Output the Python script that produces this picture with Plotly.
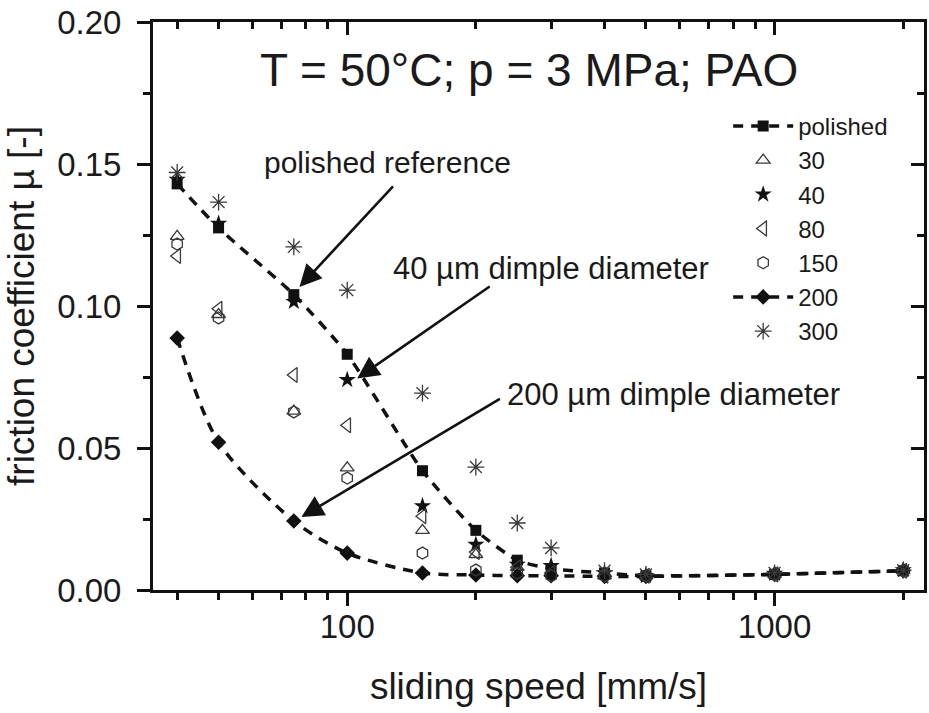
import math
import plotly.graph_objects as go

# ---------------- data ----------------
speeds = [40, 50, 75, 100, 150, 200, 250, 300, 400, 500, 1000, 2000]

polished = [0.143, 0.1275, 0.104, 0.083, 0.042, 0.021, 0.0105, 0.0075, 0.006, 0.005, 0.0055, 0.0068]
d30 = [0.1245, 0.097, 0.063, 0.043, 0.021, 0.0125, 0.008, 0.006, 0.005, 0.005, 0.0055, 0.0068]
d40 = [0.1445, 0.129, 0.1015, 0.074, 0.0296, 0.016, 0.009, 0.0085, 0.006, 0.005, 0.0058, 0.007]
d80 = [0.1176, 0.099, 0.0757, 0.058, 0.026, 0.0134, 0.008, 0.006, 0.005, 0.005, 0.0055, 0.0068]
d150 = [0.1218, 0.0958, 0.0627, 0.0394, 0.013, 0.007, 0.006, 0.005, 0.005, 0.005, 0.0055, 0.0068]
d200 = [0.0887, 0.052, 0.0243, 0.013, 0.006, 0.0053, 0.005, 0.005, 0.0048, 0.0048, 0.0055, 0.0068]
d300 = [0.147, 0.1366, 0.1208, 0.1056, 0.0693, 0.0433, 0.0236, 0.0148, 0.0068, 0.0055, 0.006, 0.007]

series_names = ["polished", "30", "40", "80", "150", "200", "300"]

x_major = [100, 1000]
x_major_text = ["100", "1000"]
x_minor = [40, 50, 60, 70, 80, 90, 200, 300, 400, 500, 600, 700, 800, 900, 2000]
y_ticks = [0.00, 0.05, 0.10, 0.15, 0.20]
y_ticktext = ["0.00", "0.05", "0.10", "0.15", "0.20"]

# ---------------- style ----------------
FONT = "Liberation Sans, Arial, sans-serif"
TXT = "#1a1a1a"
DARK = "#111111"
GREY = "#3a3a3a"
DASH = "10px,8px"

fig = go.Figure()

fig.add_trace(go.Scatter(
    x=speeds, y=polished, name=series_names[0], mode="lines+markers",
    line=dict(color=DARK, width=3.5, dash=DASH, shape="spline", smoothing=0.6),
    marker=dict(symbol="square", size=11, color=DARK)))
fig.add_trace(go.Scatter(
    x=speeds, y=d30, name=series_names[1], mode="markers",
    marker=dict(symbol="triangle-up-open", size=12, color=GREY, line=dict(width=1.3))))
fig.add_trace(go.Scatter(
    x=speeds, y=d40, name=series_names[2], mode="markers",
    marker=dict(symbol="star", size=13, color=DARK, line=dict(width=0))))
fig.add_trace(go.Scatter(
    x=speeds, y=d80, name=series_names[3], mode="markers",
    marker=dict(symbol="triangle-left-open", size=13, color=GREY, line=dict(width=1.3))))
fig.add_trace(go.Scatter(
    x=speeds, y=d150, name=series_names[4], mode="markers", yaxis="y2",
    marker=dict(symbol="hexagon-open", size=12, color=GREY, line=dict(width=1.3))))
fig.add_trace(go.Scatter(
    x=speeds, y=d200, name=series_names[5], mode="lines+markers",
    line=dict(color=DARK, width=3.5, dash=DASH, shape="spline", smoothing=0.8),
    marker=dict(symbol="diamond", size=12, color=DARK)))
fig.add_trace(go.Scatter(
    x=speeds, y=d300, name=series_names[6], mode="markers", xaxis="x2",
    marker=dict(symbol="asterisk-open", size=14, color=GREY, line=dict(width=1.3))))

xr = [1.5455, 3.3497]
yr = [0, 0.2]

axis_common = dict(linecolor=DARK, linewidth=3, tickcolor=DARK, tickwidth=2.5,
                   showgrid=False, zeroline=False)

fig.update_layout(
    width=929, height=713,
    margin=dict(l=153, r=2, t=22, b=123),
    paper_bgcolor="white", plot_bgcolor="white",
    font=dict(family=FONT, color=TXT),
    showlegend=True,
    legend=dict(x=0.746, y=0.856, xanchor="left", yanchor="top",
                font=dict(size=24, family=FONT, color=TXT),
                itemwidth=60, bgcolor="rgba(0,0,0,0)", borderwidth=0,
                tracegroupgap=0),
    xaxis=dict(type="log", range=xr, showline=True, mirror=True,
               ticks="outside", ticklen=13, tickvals=x_major, ticktext=x_major_text,
               minor=dict(tickvals=x_minor, ticks="outside", ticklen=7,
                          tickcolor=DARK, tickwidth=2.5),
               tickfont=dict(size=33, family=FONT, color=TXT),
               ticklabelstandoff=-8,
               title=dict(text="sliding speed [mm/s]", font=dict(size=37, family=FONT, color=TXT),
                          standoff=30),
               **axis_common),
    xaxis2=dict(type="log", range=xr, overlaying="x", side="top", anchor="y",
                showline=False, ticks="inside", ticklen=13, tickvals=x_major,
                showticklabels=False,
                minor=dict(tickvals=x_minor, ticks="inside", ticklen=7,
                           tickcolor=DARK, tickwidth=2.5),
                **axis_common),
    yaxis=dict(range=yr, showline=True, mirror=True,
               ticks="outside", ticklen=13, tickvals=y_ticks, ticktext=y_ticktext,
               minor=dict(dtick=0.025, tick0=0, ticks="outside", ticklen=7,
                          tickcolor=DARK, tickwidth=2.5),
               tickfont=dict(size=33, family=FONT, color=TXT),
               ticklabelstandoff=9,
               title=dict(text="friction coefficient µ [-]", font=dict(size=37, family=FONT, color=TXT),
                          standoff=12),
               **axis_common),
    yaxis2=dict(range=yr, overlaying="y", side="right", anchor="x",
                showline=False, ticks="inside", ticklen=13, tickvals=y_ticks,
                showticklabels=False,
                minor=dict(dtick=0.025, tick0=0, ticks="inside", ticklen=7,
                           tickcolor=DARK, tickwidth=2.5),
                **axis_common),
)


def px_to_paper_x(px):
    return (px - 153) / 774.0


def px_to_paper_y(py):
    return (590 - py) / 568.0


# title text inside plot
fig.add_annotation(text="T = 50°C; p = 3 MPa; PAO", xref="paper", yref="paper",
                   x=px_to_paper_x(530), y=px_to_paper_y(70), xanchor="center", yanchor="middle",
                   showarrow=False, font=dict(size=46, family=FONT, color=TXT))

# labels
fig.add_annotation(text="polished reference", xref="paper", yref="paper",
                   x=px_to_paper_x(388), y=px_to_paper_y(163), xanchor="center", yanchor="middle",
                   showarrow=False, font=dict(size=30, family=FONT, color=TXT))
fig.add_annotation(text="40 µm dimple diameter", xref="paper", yref="paper",
                   x=px_to_paper_x(392), y=px_to_paper_y(268), xanchor="left", yanchor="middle",
                   showarrow=False, font=dict(size=31, family=FONT, color=TXT))
fig.add_annotation(text="200 µm dimple diameter", xref="paper", yref="paper",
                   x=px_to_paper_x(506), y=px_to_paper_y(394), xanchor="left", yanchor="middle",
                   showarrow=False, font=dict(size=31, family=FONT, color=TXT))

# arrows (head at data location, tail offset in pixels)
arrow_style = dict(showarrow=True, arrowhead=2, arrowsize=1.7, arrowwidth=2.6,
                   arrowcolor=DARK, text="", xref="x", yref="y", axref="pixel", ayref="pixel")
fig.add_annotation(x=math.log10(77.3), y=0.1067, ax=95, ay=-102, **arrow_style)
fig.add_annotation(x=math.log10(105.5), y=0.0745, ax=134, ay=-93, **arrow_style)
fig.add_annotation(x=math.log10(78.1), y=0.0257, ax=200, ay=-119, **arrow_style)

fig.write_html("out.html")
